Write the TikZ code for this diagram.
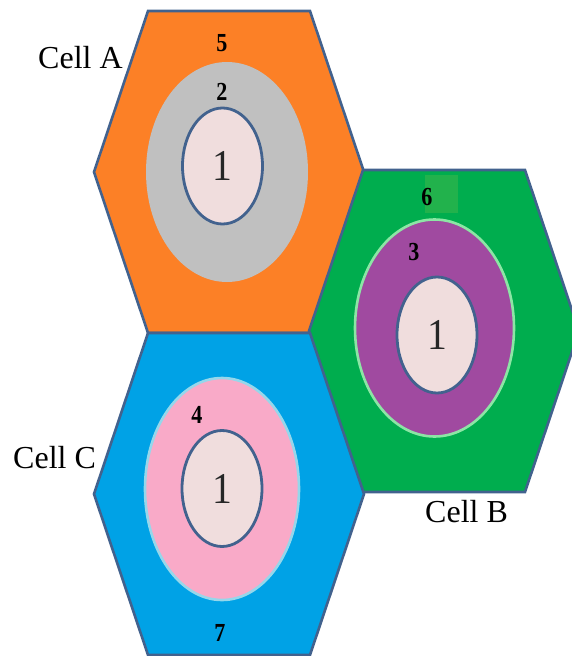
\documentclass[tikz,border=0pt]{standalone}
\usepackage{fontspec}
\setmainfont{Liberation Serif}
\usetikzlibrary{shapes.geometric}

\definecolor{edgeblue}{RGB}{66,98,142}
\definecolor{cellorange}{RGB}{252,128,38}
\definecolor{cellgreen}{RGB}{0,173,78}
\definecolor{patchgreen}{RGB}{34,178,76}
\definecolor{cellblue}{RGB}{0,162,230}
\definecolor{ringgrey}{RGB}{192,192,192}
\definecolor{ringpurple}{RGB}{160,74,160}
\definecolor{ringpink}{RGB}{249,170,200}
\definecolor{rimgreen}{RGB}{140,230,165}
\definecolor{rimblue}{RGB}{150,215,235}
\definecolor{corepink}{RGB}{240,221,221}

\tikzset{
  hexcell/.style={draw=edgeblue, line width=2.6pt, line join=miter},
  ring/.style={ellipse, inner sep=0pt, line width=2.6pt},
  core/.style={ellipse, inner sep=0pt, draw=edgeblue, line width=2.8pt,
    fill=corepink, minimum width=80pt, minimum height=116pt},
  corelabel/.style={font=\fontsize{44}{44}\selectfont, text=black!85, xscale=0.9},
  zonelabel/.style={font=\fontsize{26}{26}\selectfont\bfseries, text=black, xscale=0.85},
  celllabel/.style={font=\fontsize{32}{32}\selectfont, anchor=base west, inner sep=0pt},
}

% elongated hexagon around a centre point
\newcommand{\hexcellpath}[2]{(#1-81,#2-161) -- (#1+81,#2-161) -- (#1+135,#2)
  -- (#1+81,#2+161) -- (#1-81,#2+161) -- (#1-135,#2) -- cycle}

\begin{document}
\begin{tikzpicture}[x=1pt,y=-1pt]
  \useasboundingbox (0,0) rectangle (572,656);
  \clip (0,0) rectangle (572,656);

  % hexagonal cells
  \filldraw[hexcell, fill=cellorange] \hexcellpath{229}{172};
  \filldraw[hexcell, fill=cellgreen]  \hexcellpath{444}{331};
  \filldraw[hexcell, fill=cellblue]   \hexcellpath{229}{494};

  % lighter patch behind zone 6
  \fill[patchgreen] (425,175) rectangle (458,213);

  % cell A
  \node[ring, fill=ringgrey, minimum width=162pt, minimum height=220pt] (ringA) at (227,172) {};
  \node[core] (coreA) at (222.5,166) {};
  \node[corelabel] (oneA) at (222,166) {1};
  \node[zonelabel] (zone5) at (222,43) {5};
  \node[zonelabel] (zone2) at (222,92) {2};

  % cell B
  \node[ring, fill=ringpurple, draw=rimgreen, minimum width=159pt, minimum height=217pt] (ringB) at (434.5,328) {};
  \node[core] (coreB) at (437,335) {};
  \node[corelabel] (oneB) at (437,335) {1};
  \node[zonelabel] (zone6) at (427,197) {6};
  \node[zonelabel] (zone3) at (414,252) {3};

  % cell C
  \node[ring, fill=ringpink, draw=rimblue, minimum width=154pt, minimum height=222pt] (ringC) at (222,489) {};
  \node[core] (coreC) at (222,488.5) {};
  \node[corelabel] (oneC) at (222,488.5) {1};
  \node[zonelabel] (zone4) at (197,415) {4};
  \node[zonelabel] (zone7) at (220,633) {7};

  % cell names
  \node[celllabel] (nameA) at (38,68) {Cell A};
  \node[celllabel] (nameB) at (425,522) {Cell B};
  \node[celllabel] (nameC) at (13,468) {Cell C};
\end{tikzpicture}
\end{document}
